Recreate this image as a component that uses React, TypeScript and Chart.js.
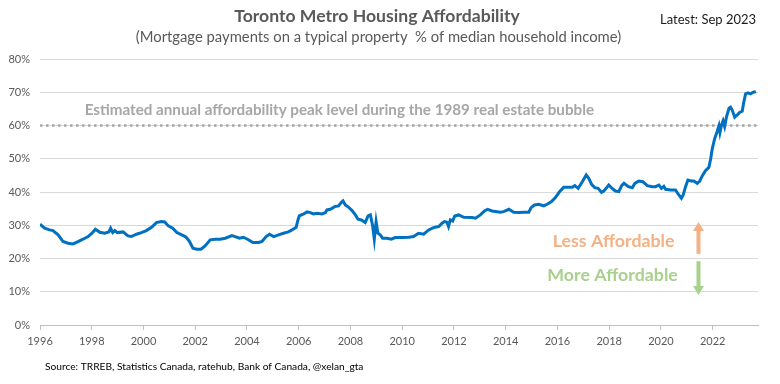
import { useEffect, useRef } from "react";
import { Chart, registerables } from "chart.js";

Chart.register(...registerables);

const TITLE = "Toronto Metro Housing Affordability";
const SUBTITLE = "(Mortgage payments on a typical property  % of median household income)";
const LATEST = "Latest: Sep 2023";
const SOURCE = "Source: TRREB, Statistics Canada, ratehub, Bank of Canada, @xelan_gta";
const PEAK_LABEL = "Estimated annual affordability peak level during the 1989 real estate bubble";
const LESS_LABEL = "Less Affordable";
const MORE_LABEL = "More Affordable";

const X_MIN = 1996;
const X_MAX = 2023.75;
const X_TICKS = [1996, 1998, 2000, 2002, 2004, 2006, 2008, 2010, 2012, 2014, 2016, 2018, 2020, 2022];
const Y_MIN = 0;
const Y_MAX = 80;
const Y_STEP = 10;
const PEAK_LEVEL = 60;

// decimal year of each observation
const DATES = [
  1996.0, 1996.18, 1996.37, 1996.5, 1996.7, 1996.89, 1997.08, 1997.28, 1997.47, 1997.66, 1997.86,
  1998.01, 1998.14, 1998.31, 1998.5, 1998.66, 1998.73, 1998.81, 1998.89, 1998.99,
  1999.21, 1999.4, 1999.53, 1999.73, 1999.92,
  2000.11, 2000.31, 2000.5, 2000.69, 2000.82, 2000.96,
  2001.13, 2001.29, 2001.48, 2001.65, 2001.78, 2001.91,
  2002.06, 2002.22, 2002.38, 2002.58, 2002.77, 2002.96,
  2003.16, 2003.42, 2003.54, 2003.71, 2003.86,
  2004.02, 2004.23, 2004.45, 2004.58, 2004.74, 2004.87,
  2005.03, 2005.22, 2005.41, 2005.6, 2005.74, 2005.9, 2005.97,
  2006.02, 2006.19, 2006.32, 2006.45, 2006.57, 2006.7, 2006.9,
  2007.03, 2007.09, 2007.22, 2007.39, 2007.54, 2007.64, 2007.71, 2007.8, 2007.93,
  2008.06, 2008.19, 2008.29, 2008.42, 2008.57, 2008.68, 2008.77, 2008.86, 2008.92, 2008.99,
  2009.06, 2009.15, 2009.24, 2009.41, 2009.58, 2009.73, 2009.99,
  2010.25, 2010.44, 2010.63, 2010.83,
  2011.02, 2011.21, 2011.41, 2011.54, 2011.63, 2011.73, 2011.79, 2011.86, 2011.95,
  2012.03, 2012.18, 2012.38, 2012.7, 2012.83,
  2013.02, 2013.18, 2013.3, 2013.47, 2013.79, 2013.92,
  2014.12, 2014.31, 2014.5, 2014.7, 2014.89, 2014.98,
  2015.11, 2015.28, 2015.47, 2015.6, 2015.77, 2015.92,
  2016.08, 2016.24, 2016.44, 2016.57, 2016.67, 2016.8, 2016.96,
  2017.11, 2017.21, 2017.32, 2017.44, 2017.57, 2017.7, 2017.79, 2017.88, 2017.98,
  2018.14, 2018.24, 2018.37, 2018.48, 2018.57, 2018.74, 2018.89, 2018.99,
  2019.14, 2019.3, 2019.47, 2019.66, 2019.79, 2019.92,
  2020.02, 2020.11, 2020.18, 2020.37, 2020.56, 2020.69, 2020.79, 2020.86, 2020.95,
  2021.04, 2021.17, 2021.27, 2021.4, 2021.5, 2021.6, 2021.72, 2021.85, 2021.92, 2021.98,
  2022.07, 2022.18, 2022.24, 2022.28, 2022.35, 2022.4, 2022.46, 2022.53, 2022.63, 2022.69, 2022.76, 2022.85, 2022.95,
  2023.05, 2023.14, 2023.2, 2023.27, 2023.36, 2023.46, 2023.57, 2023.67,
];

// mortgage payments as % of median household income
const VALUES = [
  30.3, 29.1, 28.6, 28.4, 27.1, 25.1, 24.6, 24.4, 25.1, 25.8, 26.6,
  27.6, 28.8, 27.9, 27.6, 28.0, 29.1, 27.8, 28.4, 27.8,
  28.0, 26.8, 26.6, 27.3, 27.8,
  28.4, 29.4, 30.8, 31.1, 31.0, 29.8,
  29.1, 27.8, 27.1, 26.4, 25.1, 23.1,
  22.8, 22.8, 23.8, 25.6, 25.8, 25.8,
  26.1, 26.9, 26.6, 26.1, 26.4,
  25.8, 24.8, 24.8, 25.1, 26.6, 27.3,
  26.6, 27.1, 27.6, 28.0, 28.6, 29.4, 31.6,
  32.8, 33.4, 34.0, 33.8, 33.4, 33.6, 33.4,
  33.8, 34.6, 34.8, 35.6, 35.8, 36.8, 37.3, 36.1, 35.4,
  34.4, 33.1, 31.8, 31.6, 30.8, 32.8, 33.1, 29.6, 25.8, 31.1,
  27.6, 27.1, 26.1, 26.1, 25.8, 26.3, 26.3,
  26.4, 26.6, 27.6, 27.3,
  28.6, 29.3, 29.6, 30.6, 31.1, 30.9, 29.6, 31.6, 31.3,
  32.8, 33.1, 32.4, 32.3, 32.1,
  33.1, 34.3, 34.8, 34.3, 33.9, 34.1,
  34.8, 33.9, 33.8, 33.9, 33.9, 35.3,
  36.1, 36.3, 35.8, 36.3, 37.1, 38.3,
  40.1, 41.4, 41.4, 41.4, 41.9, 41.1, 43.1,
  45.1, 44.1, 42.3, 41.3, 41.1, 39.9, 40.3, 41.1, 42.1,
  40.9, 40.3, 40.1, 41.9, 42.6, 41.6, 41.3, 42.6,
  43.3, 43.1, 41.9, 41.6, 41.6, 42.1,
  41.1, 41.7, 40.8, 40.6, 40.6, 39.1, 38.1, 39.1, 41.6,
  43.6, 43.3, 43.3, 42.6, 43.3, 44.9, 46.4, 47.4, 49.9, 52.9,
  55.9, 58.4, 59.9, 57.9, 60.4, 61.4, 59.7, 62.5, 65.2, 65.5, 64.5, 62.5, 63.2,
  64.0, 64.3, 67.0, 69.5, 69.8, 69.5, 70.0, 70.2,
];

// annotation arrow position (decimal year) and value ranges
const ARROW_X = 2021.45;
const UP_ARROW = [21.4, 31.0];
const DOWN_ARROW = [19.2, 9.0];
const LESS_LABEL_AT = [2018.17, 25.3];
const MORE_LABEL_AT = [2018.13, 15.1];
const PEAK_LABEL_AT = [2007.57, 64.5];

const FONT = "Lato, 'Open Sans', sans-serif";

export default function App() {
  const ref = useRef<HTMLCanvasElement>(null);

  useEffect(() => {
    document.body.style.margin = "0";
    const canvas = ref.current;
    if (!canvas) return;

    const overlay = {
      id: "overlay",
      afterDraw(chart: any) {
        const ctx = chart.ctx as CanvasRenderingContext2D;
        const xs = chart.scales.x;
        const ys = chart.scales.y;
        ctx.save();
        ctx.textBaseline = "middle";

        ctx.textAlign = "center";
        ctx.fillStyle = "#595959";
        ctx.font = `bold 17.6px ${FONT}`;
        ctx.fillText(TITLE, 377, 16);
        ctx.font = `14.8px ${FONT}`;
        ctx.fillText(SUBTITLE, 378.5, 37);

        ctx.textAlign = "left";
        ctx.fillStyle = "#1a1a1a";
        ctx.font = `13px ${FONT}`;
        ctx.fillText(LATEST, 660, 20);

        ctx.font = `10.2px ${FONT}`;
        ctx.fillStyle = "#000000";
        ctx.fillText(SOURCE, 45, 367);

        ctx.textAlign = "center";
        ctx.font = `bold 15.2px ${FONT}`;
        ctx.fillStyle = "#A6A6A6";
        ctx.fillText(PEAK_LABEL, xs.getPixelForValue(PEAK_LABEL_AT[0]), ys.getPixelForValue(PEAK_LABEL_AT[1]));

        ctx.font = `bold 17.8px ${FONT}`;
        ctx.fillStyle = "#F4B183";
        ctx.fillText(LESS_LABEL, xs.getPixelForValue(LESS_LABEL_AT[0]), ys.getPixelForValue(LESS_LABEL_AT[1]));
        ctx.fillStyle = "#A9D18E";
        ctx.fillText(MORE_LABEL, xs.getPixelForValue(MORE_LABEL_AT[0]), ys.getPixelForValue(MORE_LABEL_AT[1]));

        const ax = xs.getPixelForValue(ARROW_X);
        const drawArrow = (from: number, to: number, color: string) => {
          const y0 = ys.getPixelForValue(from);
          const y1 = ys.getPixelForValue(to);
          const dir = y1 < y0 ? -1 : 1;
          const head = 9;
          ctx.strokeStyle = color;
          ctx.fillStyle = color;
          ctx.lineWidth = 4;
          ctx.beginPath();
          ctx.moveTo(ax, y0);
          ctx.lineTo(ax, y1 - dir * head);
          ctx.stroke();
          ctx.beginPath();
          ctx.moveTo(ax, y1);
          ctx.lineTo(ax - 5.5, y1 - dir * head);
          ctx.lineTo(ax + 5.5, y1 - dir * head);
          ctx.closePath();
          ctx.fill();
        };
        drawArrow(UP_ARROW[0], UP_ARROW[1], "#F4B183");
        drawArrow(DOWN_ARROW[0], DOWN_ARROW[1], "#A9D18E");
        ctx.restore();
      },
    };

    const chart = new Chart(canvas, {
      type: "line",
      data: {
        datasets: [
          {
            data: DATES.map((d, i) => ({ x: d, y: VALUES[i] })),
            borderColor: "#0070C0",
            borderWidth: 3,
            pointRadius: 0,
            tension: 0,
            order: 1,
          },
          {
            data: [
              { x: X_MIN, y: PEAK_LEVEL },
              { x: X_MAX, y: PEAK_LEVEL },
            ],
            borderColor: "#A6A6A6",
            borderWidth: 2.5,
            borderDash: [2.5, 3.5],
            pointRadius: 0,
            order: 2,
          },
        ],
      },
      options: {
        animation: false,
        responsive: false,
        devicePixelRatio: 1,
        layout: { padding: { top: 59, right: 22, left: 0, bottom: 0 } },
        plugins: { legend: { display: false }, tooltip: { enabled: false } },
        scales: {
          x: {
            type: "linear",
            min: X_MIN,
            max: X_MAX,
            afterBuildTicks: (s: any) => {
              s.ticks = X_TICKS.map((v) => ({ value: v }));
            },
            afterFit: (s: any) => {
              s.height = 59;
            },
            grid: { drawOnChartArea: false, drawTicks: true, tickLength: 5, color: "#BFBFBF" },
            border: { color: "#BFBFBF", width: 1 },
            ticks: {
              autoSkip: false,
              maxRotation: 0,
              padding: 5,
              color: "#595959",
              font: { family: FONT, size: 11 },
              callback: (v: any) => String(v),
            },
          },
          y: {
            min: Y_MIN,
            max: Y_MAX,
            afterFit: (s: any) => {
              s.width = 40;
            },
            grid: { color: "#D9D9D9", drawTicks: false },
            border: { display: false },
            ticks: {
              stepSize: Y_STEP,
              padding: 10,
              color: "#595959",
              font: { family: FONT, size: 11 },
              callback: (v: any) => `${v}%`,
            },
          },
        },
      },
      plugins: [overlay],
    });

    return () => chart.destroy();
  }, []);

  return (
    <div style={{ width: 780, height: 384 }}>
      <canvas ref={ref} width={780} height={384} style={{ display: "block" }} />
    </div>
  );
}
